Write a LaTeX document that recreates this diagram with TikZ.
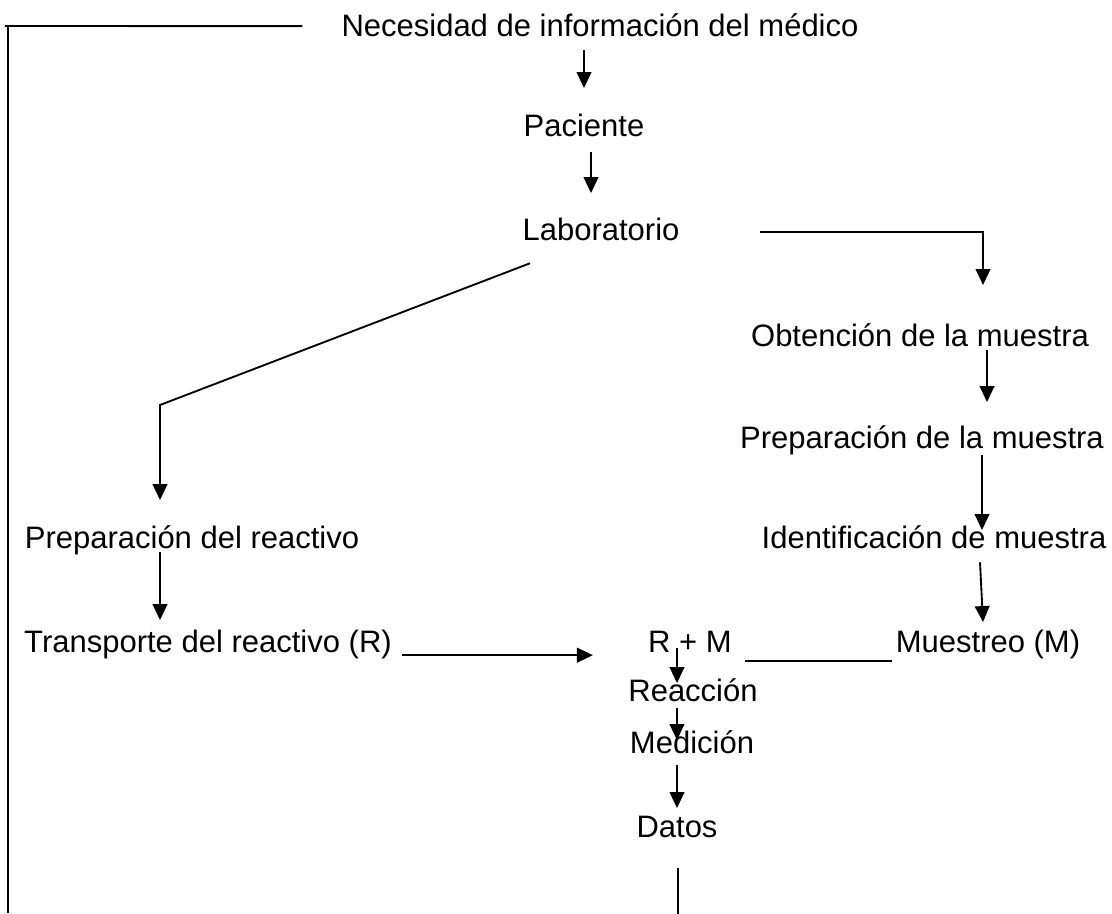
\documentclass[tikz,border=0pt]{standalone}
\usepackage{fontspec}
\setmainfont{Liberation Sans}
\usetikzlibrary{arrows.meta,calc}

\begin{document}
\begin{tikzpicture}[
  x=0.75pt, y=-0.75pt,
  txt/.style={anchor=base,inner sep=0pt,text height=17pt,text depth=6pt,
    font=\fontsize{23.25}{28}\selectfont},
  arr/.style={-{Triangle[width=11pt,length=12pt]},line width=1.4pt},
  ln/.style={line width=1.4pt}
]
  \useasboundingbox (0,0) rectangle (1112,913);

  \node[txt] (nec) at (600,37) {Necesidad de información del médico};
  \node[txt] (pac) at (584,137) {Paciente};
  \node[txt] (lab) at (601,240) {Laboratorio};
  \node[txt] (obt) at (920,346) {Obtención de la muestra};
  \node[txt] (prepm) at (922,448) {Preparación de la muestra};
  \node[txt] (prepr) at (192,548) {Preparación del reactivo};
  \node[txt] (ident) at (934,548) {Identificación de muestra};
  \node[txt] (trans) at (208,652) {Transporte del reactivo (R)};
  \node[txt] (rm) at (690,652) {R + M};
  \node[txt] (mue) at (988,652) {Muestreo (M)};
  \node[txt] (reac) at (693,701) {Reacción};
  \node[txt] (med) at (692,753) {Medición};
  \node[txt] (dat) at (677,837) {Datos};
  \coordinate (loopb) at (8,913);

  % main chain
  \draw[arr] ($(nec.south)+(-16,5)$) -- ($(pac.north)+(0,-26)$);
  \draw[arr] ($(pac.south)+(7,7)$) -- ($(lab.north)+(-10,-24)$);

  % sample branch
  \draw[arr] ($(lab.east)+(80,-1)$) -| ($(obt.north)+(63,-38)$);
  \draw[arr] ($(obt.south)+(67,-4)$) -- ($(prepm.north)+(65,-23)$);
  \draw[arr] ($(prepm.south)+(60,-1)$) -- ($(ident.north)+(48,5)$);
  \draw[arr] ($(ident.south)+(46,6)$) -- ($(mue.north)+(-5,-7)$);

  % reagent branch
  \draw[arr] ($(lab.south)+(-71,15)$) -- (160,405) -- ($(prepr.north)+(-32,-25)$);
  \draw[arr] ($(prepr.south)+(-32,-4)$) -- ($(trans.north)+(-48,-9)$);
  \draw[arr] ($(trans.east)+(10,10.5)$) -- ($(rm.west)+(-55,10.5)$);
  \draw[ln] ($(rm.east)+(13,16.5)$) -- ($(mue.west)+(-4,16.5)$);

  % reaction
  \draw[arr] ($(rm.south)+(-13,-12)$) -- ($(reac.north)+(-16,5)$);
  \draw[arr] ($(reac.south)+(-16,-1)$) -- ($(med.north)+(-15,10)$);
  \draw[arr] ($(med.south)+(-15,4)$) -- ($(dat.north)+(0,-6)$);

  % feedback
  \draw[ln] ($(dat.south)+(1,23)$) -- ($(dat.south)+(1,76)$);
  \draw[ln] ($(nec.west)+(-39,-3.5)$) -- (5,26);
  \draw[ln] (8,26) -- (loopb);
\end{tikzpicture}
\end{document}
